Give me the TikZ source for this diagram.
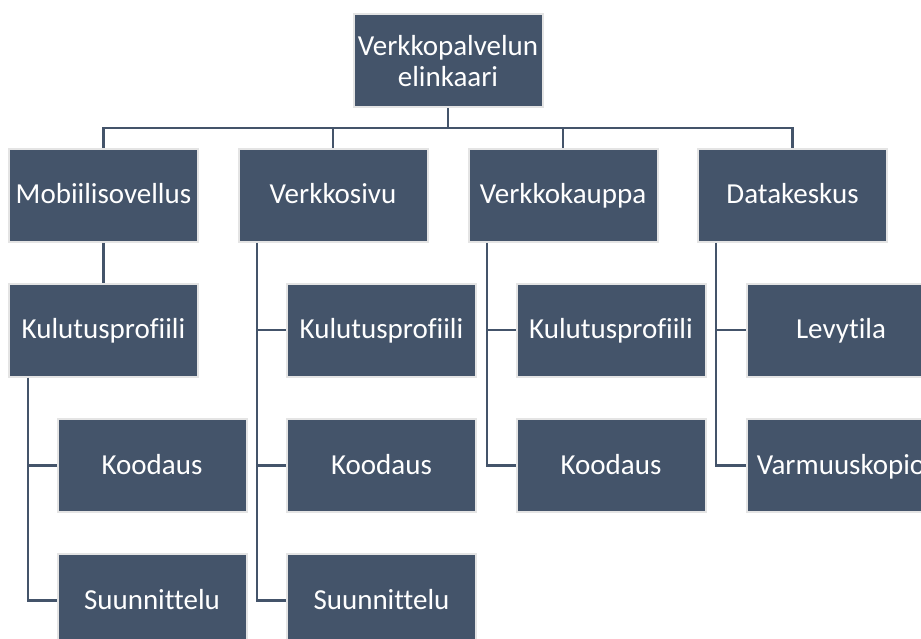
\documentclass[tikz,border=0pt]{standalone}
\usepackage{fontspec}
\setmainfont[Ligatures=NoCommon]{Carlito}
\definecolor{slate}{HTML}{44546A}
\definecolor{rim}{HTML}{E4E4E4}
\begin{document}
\begin{tikzpicture}[x=1pt,y=-1pt,
  box/.style={draw=rim, line width=2pt, fill=slate, text=white,
    minimum width=189pt, minimum height=93pt, inner sep=0pt,
    text height=23pt, text depth=6pt,
    align=center, font=\fontsize{29}{31}\selectfont},
  twoline/.style={text height=, text depth=},
  link/.style={draw=slate, line width=2.2pt}]
\useasboundingbox (0,0) rectangle (921,639);
\clip (0,0) rectangle (921,639);

% root
\node[box, twoline] (root) at (448,61) {Verkkopalvelun\\elinkaari};

% first level
\node[box] (mob) at (103.5,195.5) {Mobiilisovellus};
\node[box] (web) at (333,195.5) {Verkkosivu};
\node[box] (shop) at (563,195.5) {Verkkokauppa};
\node[box] (dc) at (792.5,195.5) {Datakeskus};

% Mobiilisovellus branch
\node[box] (mobk) at (103.5,330) {Kulutusprofiili};
\node[box] (mobc) at (152,465.5) {Koodaus};
\node[box] (mobs) at (152,600.5) {Suunnittelu};

% Verkkosivu branch
\node[box] (webk) at (381.5,330) {Kulutusprofiili};
\node[box] (webc) at (381.5,465.5) {Koodaus};
\node[box] (webs) at (381.5,600.5) {Suunnittelu};

% Verkkokauppa branch
\node[box] (shopk) at (611,330) {Kulutusprofiili};
\node[box] (shopc) at (611,465.5) {Koodaus};

% Datakeskus branch
\node[box] (dcl) at (841,330) {Levytila};
\node[box] (dcv) at (841,465.5) {Varmuuskopio};

% bus below the root
\coordinate (bus) at (448,128);
\draw[link] (root.south) -- (bus);
\draw[link] (mob.north) |- (bus) -| (dc.north);
\draw[link] (web.north) -- (web.north |- bus);
\draw[link] (shop.north) -- (shop.north |- bus);

\draw[link] (mob.south) -- (mobk.north);

% elbow connectors on the left side of each column
\coordinate (mobrail) at (28,0);
\draw[link] (mobrail |- mobk.south) |- (mobs.west);
\draw[link] (mobrail |- mobc.west) -- (mobc.west);

\coordinate (webrail) at (257,0);
\draw[link] (webrail |- web.south) |- (webs.west);
\draw[link] (webrail |- webk.west) -- (webk.west);
\draw[link] (webrail |- webc.west) -- (webc.west);

\coordinate (shoprail) at (487,0);
\draw[link] (shoprail |- shop.south) |- (shopc.west);
\draw[link] (shoprail |- shopk.west) -- (shopk.west);

\coordinate (dcrail) at (716,0);
\draw[link] (dcrail |- dc.south) |- (dcv.west);
\draw[link] (dcrail |- dcl.west) -- (dcl.west);
\end{tikzpicture}
\end{document}
